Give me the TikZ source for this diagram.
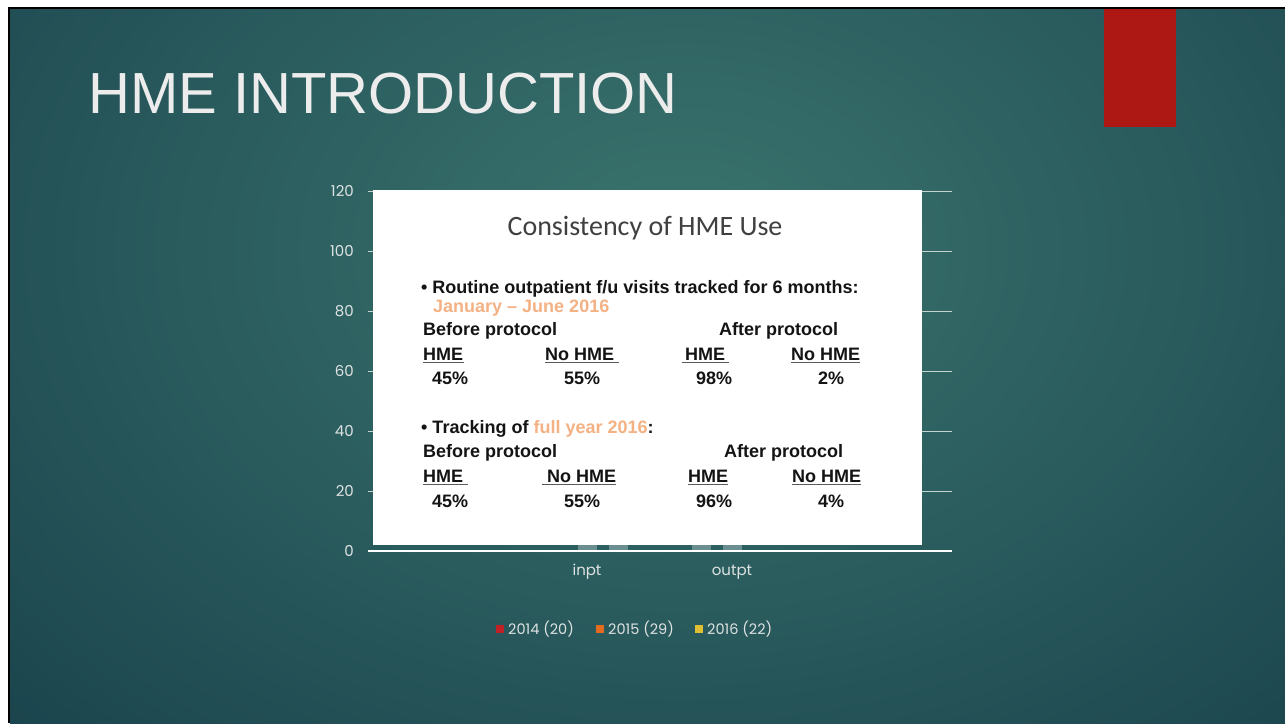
\documentclass[tikz,border=0pt]{standalone}
\usepackage{fontspec}
\setmainfont{Liberation Sans}
\newfontfamily\calfont{Carlito}
\newfontfamily\axfont{Poppins}
\definecolor{bgin}{RGB}{58,116,110}
\definecolor{bgout}{RGB}{17,53,67}
\definecolor{slidered}{RGB}{173,24,21}
\definecolor{peach}{RGB}{244,177,131}
\definecolor{axtxt}{RGB}{222,226,226}
\definecolor{gridc}{RGB}{196,210,208}
\definecolor{titlec}{RGB}{236,236,236}
\definecolor{boxtxt}{RGB}{20,20,20}
\definecolor{captxt}{RGB}{64,64,64}
\definecolor{ulc}{RGB}{90,90,90}
\definecolor{lgA}{RGB}{192,32,38}
\definecolor{lgB}{RGB}{228,108,30}
\definecolor{lgC}{RGB}{222,190,50}
\begin{document}
\begin{tikzpicture}[x=1pt,y=-1pt,
  titletxt/.style={anchor=base west,inner sep=0,text=titlec,font=\fontsize{58}{58}\selectfont},
  bt/.style={anchor=base west,inner sep=0,text=boxtxt,font=\fontsize{18}{18}\selectfont\bfseries},
  axlab/.style={anchor=east,inner sep=0,text=axtxt,font=\axfont\fontsize{15}{15}\selectfont},
  catlab/.style={anchor=center,inner sep=0,text=axtxt,font=\axfont\fontsize{15}{15}\selectfont},
  leglab/.style={anchor=west,inner sep=0,text=axtxt,font=\axfont\fontsize{14.5}{14.5}\selectfont},
  uline/.style={draw=ulc,line width=1.6pt},
  gridln/.style={draw=gridc,line width=1pt},
  ghostbar/.style={fill=white,fill opacity=0.3}]
\useasboundingbox (0,0) rectangle (1285,723);
% page frame and slide background
\fill[white] (0,0) rectangle (1285,723);
\fill[black] (8,7) rectangle (1285,723);
\fill[bgout] (10,9) rectangle (1285,723);
\begin{scope}
  \clip (10,9) rectangle (1285,723);
  \shade[inner color=bgin,outer color=bgout] (680,250) ellipse (1250 and 900);
\end{scope}
% red accent
\fill[slidered] (1104,9) rectangle (1176,127);
% title
\node[titletxt] (title) at (88,113) {HME INTRODUCTION};
% chart grid and axis labels
\foreach \v in {20,40,...,120}{
  \draw[gridln] (368,551-\v*3) -- (952,551-\v*3);
}
\foreach \v in {0,20,...,120}{
  \node[axlab] (ax\v) at (354,551-\v*3) {\v};
}
\draw[draw=white,line width=1.5pt] (368,551) -- (952,551);
% faint bars under the picture
\fill[ghostbar] (578,545) rectangle (597,550);
\fill[ghostbar] (609,545) rectangle (628,550);
\fill[ghostbar] (692,545) rectangle (711,550);
\fill[ghostbar] (723,545) rectangle (742,550);
% white picture
\fill[white] (373,190) rectangle (922,545);
\node[anchor=base,inner sep=0,text=captxt,font=\calfont\fontsize{28}{28}\selectfont] (cap) at (645,235) {Consistency of HME Use};
% section 1
\node[bt] (r1) at (421,293) {\textbullet\ Routine outpatient f/u visits tracked for 6 months:};
\node[bt,text=peach] (jan) at (433,312) {January -- June 2016};
\node[bt] (bp1) at (423,335) {Before protocol};
\node[bt] (ap1) at (719,335) {After protocol};
\node[bt] (h1a) at (423,360) {HME};
\node[bt] (n1a) at (545,360) {No HME};
\node[bt] (h1b) at (685,360) {HME};
\node[bt] (n1b) at (791,360) {No HME};
\node[bt] (p1a) at (432,384) {45\%};
\node[bt] (p1b) at (564,384) {55\%};
\node[bt] (p1c) at (696,384) {98\%};
\node[bt] (p1d) at (818,384) {2\%};
\draw[uline] ([yshift=-2.5pt]h1a.base west) -- ([yshift=-2.5pt,xshift=1pt]h1a.base east);
\draw[uline] ([yshift=-2.5pt]n1a.base west) -- ([yshift=-2.5pt,xshift=5pt]n1a.base east);
\draw[uline] ([yshift=-2.5pt,xshift=-3pt]h1b.base west) -- ([yshift=-2.5pt,xshift=4pt]h1b.base east);
\draw[uline] ([yshift=-2.5pt]n1b.base west) -- ([yshift=-2.5pt]n1b.base east);
% section 2
\node[bt] (r2) at (421,433) {\textbullet\ Tracking of \textcolor{peach}{full year 2016}:};
\node[bt] (bp2) at (423,457) {Before protocol};
\node[bt] (ap2) at (724,457) {After protocol};
\node[bt] (h2a) at (423,482) {HME};
\node[bt] (n2a) at (547,482) {No HME};
\node[bt] (h2b) at (688,482) {HME};
\node[bt] (n2b) at (792,482) {No HME};
\node[bt] (p2a) at (432,507) {45\%};
\node[bt] (p2b) at (564,507) {55\%};
\node[bt] (p2c) at (696,507) {96\%};
\node[bt] (p2d) at (818,507) {4\%};
\draw[uline] ([yshift=-2.5pt]h2a.base west) -- ([yshift=-2.5pt,xshift=5pt]h2a.base east);
\draw[uline] ([yshift=-2.5pt,xshift=-5pt]n2a.base west) -- ([yshift=-2.5pt]n2a.base east);
\draw[uline] ([yshift=-2.5pt]h2b.base west) -- ([yshift=-2.5pt]h2b.base east);
\draw[uline] ([yshift=-2.5pt]n2b.base west) -- ([yshift=-2.5pt]n2b.base east);
% category labels
\node[catlab] (inpt) at (587,572) {inpt};
\node[catlab] (outpt) at (732,572) {outpt};
% legend
\fill[lgA] (496,625) rectangle (504,633);
\node[leglab] (l14) at (508,629) {2014 (20)};
\fill[lgB] (596,625) rectangle (604,633);
\node[leglab] (l15) at (608,629) {2015 (29)};
\fill[lgC] (695,625) rectangle (703,633);
\node[leglab] (l16) at (707,629) {2016 (22)};
\end{tikzpicture}
\end{document}
